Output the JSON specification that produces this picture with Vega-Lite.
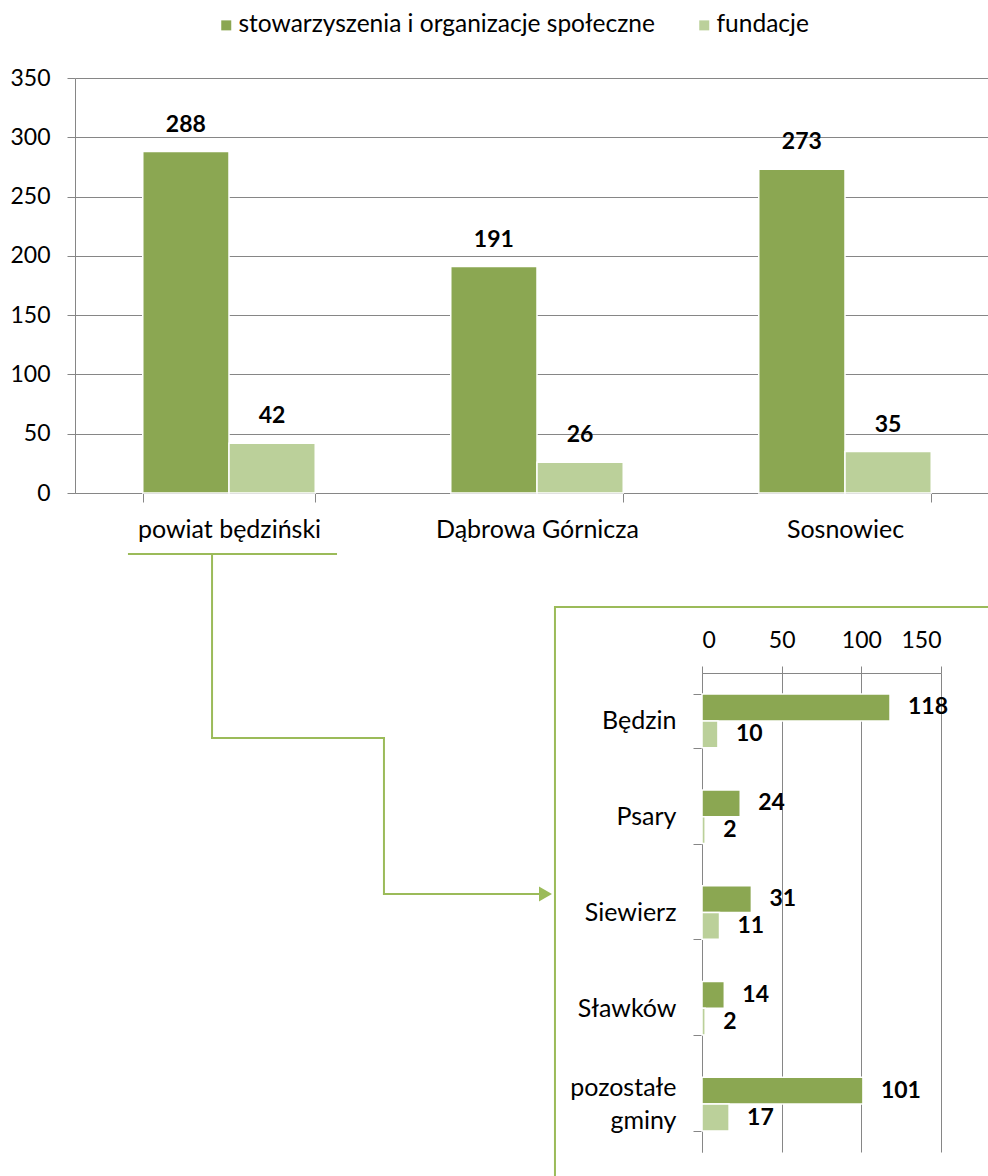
{
  "$schema": "https://vega.github.io/schema/vega-lite/v6.json",
  "autosize": {"type": "none"},
  "padding": {"left": 75, "top": 78, "right": 913, "bottom": 1098},
  "spacing": 47,
  "bounds": "flush",
  "datasets": {
    "powiaty": [
      {"obszar": "powiat będziński", "seria": "stowarzyszenia i organizacje społeczne", "wartosc": 288},
      {"obszar": "powiat będziński", "seria": "fundacje", "wartosc": 42},
      {"obszar": "Dąbrowa Górnicza", "seria": "stowarzyszenia i organizacje społeczne", "wartosc": 191},
      {"obszar": "Dąbrowa Górnicza", "seria": "fundacje", "wartosc": 26},
      {"obszar": "Sosnowiec", "seria": "stowarzyszenia i organizacje społeczne", "wartosc": 273},
      {"obszar": "Sosnowiec", "seria": "fundacje", "wartosc": 35}
    ],
    "gminy": [
      {"gmina": "Będzin", "seria": "stowarzyszenia i organizacje społeczne", "wartosc": 118},
      {"gmina": "Będzin", "seria": "fundacje", "wartosc": 10},
      {"gmina": "Psary", "seria": "stowarzyszenia i organizacje społeczne", "wartosc": 24},
      {"gmina": "Psary", "seria": "fundacje", "wartosc": 2},
      {"gmina": "Siewierz", "seria": "stowarzyszenia i organizacje społeczne", "wartosc": 31},
      {"gmina": "Siewierz", "seria": "fundacje", "wartosc": 11},
      {"gmina": "Sławków", "seria": "stowarzyszenia i organizacje społeczne", "wartosc": 14},
      {"gmina": "Sławków", "seria": "fundacje", "wartosc": 2},
      {"gmina": "pozostałe gminy", "seria": "stowarzyszenia i organizacje społeczne", "wartosc": 101},
      {"gmina": "pozostałe gminy", "seria": "fundacje", "wartosc": 17}
    ],
    "laczniki": [
      {"x": 5.91, "y": 2.2, "x2": 28.59, "y2": 2.2},
      {"x": 15.01, "y": 2.2, "x2": 15.01, "y2": 31.13},
      {"x": 15.01, "y": 31.13, "x2": 33.84, "y2": 31.13},
      {"x": 33.84, "y": 31.13, "x2": 33.84, "y2": 55.66},
      {"x": 33.84, "y": 55.66, "x2": 50.9, "y2": 55.66}
    ],
    "strzalka": [{"x": 51.53, "y": 55.66}],
    "ramka": [{"x": 52.57, "y": 10.53, "x2": 110, "y2": 110}]
  },
  "vconcat": [
    {
      "width": 924,
      "height": 415,
      "data": {"name": "powiaty"},
      "encoding": {
        "x": {
          "field": "obszar", "type": "nominal", "sort": null, "title": null,
          "scale": {"paddingInner": 0.44, "paddingOuter": 0.22},
          "axis": {"labelAngle": 0, "labelFontSize": 25, "labelLimit": 0, "tickBand": "extent", "tickSize": 9, "labelPadding": 15, "domainColor": "#868686", "tickColor": "#868686"}
        },
        "xOffset": {"field": "seria", "type": "nominal", "sort": ["stowarzyszenia i organizacje społeczne", "fundacje"]},
        "y": {
          "field": "wartosc", "type": "quantitative", "title": null,
          "scale": {"domain": [0, 350], "nice": false},
          "axis": {"values": [0, 50, 100, 150, 200, 250, 300, 350], "labelFontSize": 23, "grid": true, "tickSize": 8, "labelPadding": 17, "domainColor": "#868686", "tickColor": "#868686", "gridColor": "#868686"}
        }
      },
      "layer": [
        {
          "mark": {"type": "bar", "stroke": "white", "strokeWidth": 1.5},
          "encoding": {
            "color": {
              "field": "seria", "type": "nominal",
              "scale": {"domain": ["stowarzyszenia i organizacje społeczne", "fundacje"], "range": ["#8BA752", "#BBD09A"]},
              "legend": {
                "title": null, "orient": "none", "direction": "horizontal",
                "legendX": 139, "legendY": -65, "padding": 0,
                "symbolType": "square", "symbolSize": 100, "symbolStrokeWidth": 0,
                "labelFontSize": 24.5, "labelFont": "Lato", "labelColor": "#000000", "labelLimit": 0,
                "labelOffset": 0, "columnPadding": 37
              }
            }
          }
        },
        {
          "mark": {"type": "text", "baseline": "alphabetic", "dy": -20, "fontWeight": "bold", "fontSize": 23, "font": "Lato", "color": "#000000"},
          "encoding": {"text": {"field": "wartosc", "type": "quantitative"}}
        }
      ]
    },
    {
      "width": 913,
      "height": 636,
      "layer": [
        {
          "encoding": {
            "x": {"field": "x", "type": "quantitative", "scale": {"domain": [0, 100], "nice": false, "zero": false}, "axis": null},
            "y": {"field": "y", "type": "quantitative", "scale": {"domain": [0, 100], "nice": false, "zero": false, "reverse": true}, "axis": null}
          },
          "layer": [
            {
              "data": {"name": "ramka"},
              "mark": {"type": "rect", "filled": false, "stroke": "#9BBB59", "strokeWidth": 2},
              "encoding": {"x2": {"field": "x2"}, "y2": {"field": "y2"}}
            },
            {
              "data": {"name": "laczniki"},
              "mark": {"type": "rule", "stroke": "#9BBB59", "strokeWidth": 2, "strokeCap": "square"},
              "encoding": {"x2": {"field": "x2"}, "y2": {"field": "y2"}}
            },
            {
              "data": {"name": "strzalka"},
              "mark": {"type": "point", "shape": "triangle-right", "filled": true, "size": 225, "color": "#9BBB59", "opacity": 1},
              "encoding": {}
            }
          ]
        },
        {
          "data": {"name": "gminy"},
          "encoding": {
            "y": {
              "field": "gmina", "type": "nominal", "sort": null, "title": null,
              "scale": {"range": [133, 612], "paddingInner": 0.44, "paddingOuter": 0.22},
              "axis": {"orient": "left", "offset": -627, "labelFontSize": 25, "labelLimit": 0, "tickBand": "extent", "tickSize": 9, "labelPadding": 17, "domainColor": "#868686", "tickColor": "#868686",
                       "labelExpr": "datum.value === 'pozostałe gminy' ? ['pozostałe', 'gminy'] : datum.value", "labelLineHeight": 33,
                       "labelOffset": {"condition": {"test": "datum.value === 'pozostałe gminy'", "value": -16.5}, "value": 0}}
            },
            "yOffset": {"field": "seria", "type": "nominal", "sort": ["stowarzyszenia i organizacje społeczne", "fundacje"]},
            "x": {
              "field": "wartosc", "type": "quantitative", "title": null,
              "scale": {"domain": [0, 150], "range": [627, 866], "nice": false},
              "axis": {"orient": "top", "offset": -133, "values": [0, 50, 100, 150], "labelFontSize": 23, "grid": true, "tickSize": 7, "labelPadding": 14, "domainColor": "#868686", "tickColor": "#868686", "gridColor": "#868686"}
            }
          },
          "layer": [
            {
              "mark": {"type": "bar", "stroke": "white", "strokeWidth": 1.5},
              "encoding": {"color": {"field": "seria", "type": "nominal", "legend": null}}
            },
            {
              "mark": {"type": "text", "align": "left", "baseline": "middle", "dx": 18, "fontWeight": "bold", "fontSize": 23, "font": "Lato", "color": "#000000"},
              "encoding": {"text": {"field": "wartosc", "type": "quantitative"}}
            }
          ]
        }
      ],
      "resolve": {"scale": {"x": "independent", "y": "independent"}, "axis": {"x": "independent", "y": "independent"}}
    }
  ],
  "config": {
    "view": {"stroke": null},
    "font": "Lato",
    "axis": {"labelFont": "Lato", "labelFontSize": 22, "labelColor": "#000000", "titleFont": "Lato"},
    "legend": {"labelFont": "Lato"}
  }
}
